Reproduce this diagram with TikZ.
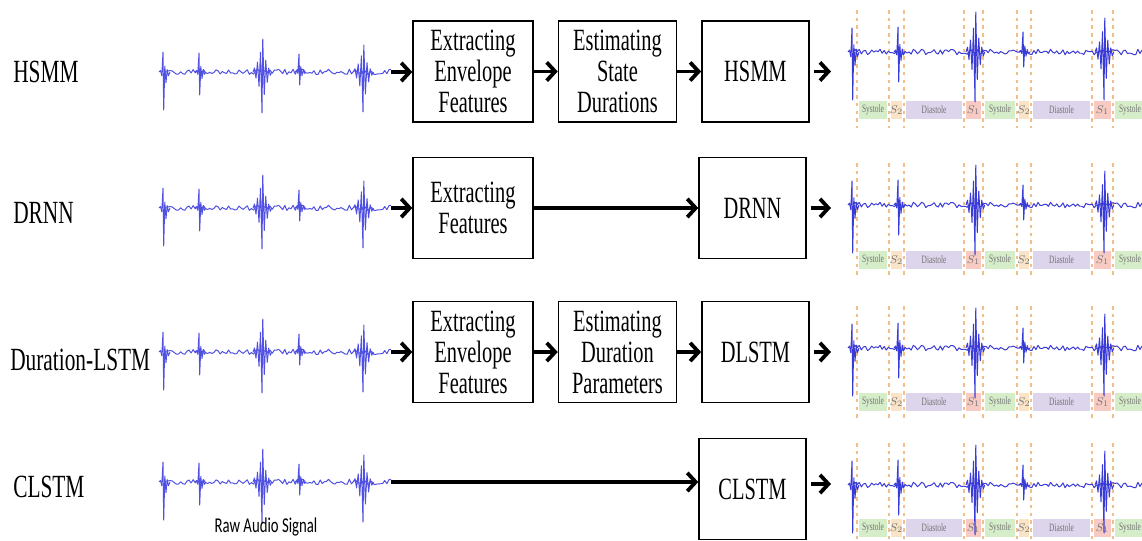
\documentclass[tikz,border=0pt]{standalone}
\usepackage{fontspec}
\setmainfont[FakeStretch=0.66]{Liberation Serif}
\newfontfamily\capfont[FakeStretch=0.7]{Carlito}
\usetikzlibrary{positioning,arrows.meta}

\definecolor{sigblue}{HTML}{5050E2}
\definecolor{segblue}{HTML}{3A3AD6}
\definecolor{bndorange}{HTML}{F5BE86}
\definecolor{sysgreen}{HTML}{D6EDC9}
\definecolor{diapurple}{HTML}{DDD5EC}
\definecolor{sonered}{HTML}{F7CBC3}
\definecolor{stwoyellow}{HTML}{FBE3C6}

\tikzset{
  stage/.style={draw, line width=1pt, align=center, inner sep=0pt,
    minimum height=2.525cm, font=\fontsize{22}{22}\selectfont},
  method/.style={anchor=west, inner sep=0pt, font=\fontsize{23}{24}\selectfont},
  flow/.style={line width=2.7pt, -{Straight Barb[length=6pt,width=13pt]}},
  sig/.style={line width=0.7pt, line join=round},
  bnd/.style={bndorange, line width=0.75pt, dash pattern=on 2.5pt off 3pt},
  seglab/.style={inner sep=0pt, text=black!55, font=\fontsize{8}{8}\selectfont},
}

% one sharp heart sound: x, height up, depth down
\newcommand\spike[3]{%
  \draw[sig] (#1-4,0) -- (#1-2.5,-0.08*#2) -- (#1-1.2,0.1*#3) -- (#1,-#2)
    -- (#1+0.7,#3) -- (#1+1.8,-0.3*#2) -- (#1+3,0.28*#3)
    -- (#1+4.2,-0.12*#2) -- (#1+5.4,0.1*#3) -- (#1+7,0);
}
% one loud burst: x, height up, depth down, spread
\newcommand\burst[4]{%
  \draw[sig] (#1-6*#4,0) -- (#1-5*#4,-0.12*#2) -- (#1-4*#4,0.15*#3)
    -- (#1-3*#4,-0.3*#2) -- (#1-2*#4,0.35*#3) -- (#1-#4,-0.6*#2)
    -- (#1,#3) -- (#1+0.5*#4,-#2) -- (#1+1.5*#4,0.55*#3)
    -- (#1+2.5*#4,-0.35*#2) -- (#1+3.5*#4,0.25*#3)
    -- (#1+4.5*#4,-0.12*#2) -- (#1+5.5*#4,0.08*#3) -- (#1+6.5*#4,0);
}

% raw recording, drawn round its own baseline
\newcommand\rawsig{%
  \pgfmathsetseed{11}
  \draw[sig] plot[domain=164:391, samples=110] (\x,{2.8*rand});
  \spike{163}{20}{38}
  \spike{199}{19}{23}
  \burst{262}{33}{41}{1.5}
  \spike{299}{18}{13}
  \burst{363}{27}{40}{1.6}
}

% segmented recording; #1 = offset of the state strip
\newcommand\segsig[1]{%
  \foreach \a/\b/\c/\t in {857/889/sysgreen/Systole, 889/904/stwoyellow/$S_2$,
      904/964/diapurple/Diastole, 964/983/sonered/$S_1$,
      983/1017/sysgreen/Systole, 1017/1031/stwoyellow/$S_2$,
      1031/1092/diapurple/Diastole, 1092/1113/sonered/$S_1$,
      1113/1147/sysgreen/Systole}{
    \fill[\c] (\a+2,#1-9) rectangle (\b-2,#1+9);
    \node[seglab] at ({(\a+\b)/2},#1) {\t};
  }
  \foreach \b in {857,889,904,964,983,1017,1031,1092,1113}
    \draw[bnd] (\b,-42) -- (\b,#1+18);
  \pgfmathsetseed{5}
  \draw[sig] plot[domain=853:1142, samples=140] (\x,{2.8*rand});
  \spike{852}{24}{48}
  \spike{898}{25}{30}
  \burst{975}{40}{50}{1.5}
  \spike{1023}{20}{15}
  \burst{1104}{34}{48}{1.5}
}

\begin{document}
\begin{tikzpicture}[x=0.025cm, y=-0.025cm]
  \useasboundingbox (0,0) rectangle (1142,540);

  % method names
  \node[method] (hsmmlab) at (13,72) {HSMM};
  \node[method] (drnnlab) at (13,213) {DRNN};
  \node[method] (dlstmlab) at (10,360) {Duration-LSTM};
  \node[method] (clstmlab) at (13,487) {CLSTM};

  % raw input signals
  \begin{scope}[shift={(0,72)}, sigblue]
    \rawsig
    \coordinate (sig1) at (391,0);
  \end{scope}
  \begin{scope}[shift={(0,208)}, sigblue]
    \rawsig
    \coordinate (sig2) at (391,0);
  \end{scope}
  \begin{scope}[shift={(0,352)}, sigblue]
    \rawsig
    \coordinate (sig3) at (391,0);
  \end{scope}
  \begin{scope}[shift={(0,482)}, sigblue]
    \rawsig
    \coordinate (sig4) at (391,0);
  \end{scope}
  \node[font=\capfont\fontsize{15}{16}\selectfont] (rawlab) at (266,527) {Raw Audio Signal};

  % HSMM row
  \node[stage, minimum width=3cm] (ext1) at (473,71.5) {Extracting\\Envelope\\Features};
  \node[stage, minimum width=2.95cm, right=0.6cm of ext1] (est1) {Estimating\\State\\Durations};
  \node[stage, minimum width=2.675cm, right=0.6cm of est1] (hsmm) {HSMM};

  % DRNN row
  \node[stage, minimum width=3cm] (ext2) at (473,208) {Extracting\\Features};
  \node[stage, minimum width=2.675cm] (drnn) at (752.5,208) {DRNN};

  % Duration-LSTM row
  \node[stage, minimum width=3cm] (ext3) at (473,352) {Extracting\\Envelope\\Features};
  \node[stage, minimum width=2.95cm, right=0.6cm of ext3] (est3) {Estimating\\Duration\\Parameters};
  \node[stage, minimum width=2.675cm, right=0.6cm of est3] (dlstm) {DLSTM};

  % CLSTM row
  \node[stage, minimum width=2.675cm] (clstm) at (752.5,489) {CLSTM};

  % connectors
  \draw[flow] (sig1) -- (sig1 -| ext1.west);
  \draw[flow] (ext1) -- (est1);
  \draw[flow] (est1) -- (hsmm);
  \draw[flow] (sig2) -- (sig2 -| ext2.west);
  \draw[flow] (ext2) -- (drnn);
  \draw[flow] (sig3) -- (sig3 -| ext3.west);
  \draw[flow] (ext3) -- (est3);
  \draw[flow] (est3) -- (dlstm);
  \draw[flow] (sig4) -- (sig4 -| clstm.west);

  \coordinate (out1) at (831,72);
  \coordinate (out2) at (831,208);
  \coordinate (out3) at (831,352);
  \coordinate (out4) at (831,484);
  \draw[flow, shorten <=3pt] (hsmm) -- (hsmm -| out1);
  \draw[flow, shorten <=3pt] (drnn) -- (drnn -| out2);
  \draw[flow, shorten <=3pt] (dlstm) -- (dlstm -| out3);
  \draw[flow, shorten <=3pt] (clstm.east |- out4) -- (out4);

  % segmented outputs
  \begin{scope}
    \clip (840,0) rectangle (1142,540);
    \begin{scope}[shift={(0,52)}, segblue]
      \segsig{58}
    \end{scope}
    \begin{scope}[shift={(0,205)}, segblue]
      \segsig{55}
    \end{scope}
    \begin{scope}[shift={(0,348)}, segblue]
      \segsig{54}
    \end{scope}
    \begin{scope}[shift={(0,485)}, segblue]
      \segsig{43}
    \end{scope}
  \end{scope}
\end{tikzpicture}
\end{document}
